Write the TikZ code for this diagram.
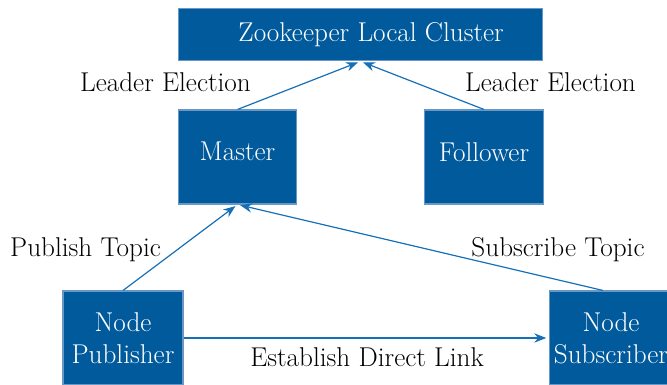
\documentclass[tikz,border=0pt]{standalone}
\usepackage{tikz}
\usetikzlibrary{arrows.meta}
\definecolor{boxblue}{HTML}{005A9C}
\definecolor{boxedge}{HTML}{6A98C6}
\definecolor{linkblue}{HTML}{1570B8}
\tikzset{
  box/.style={fill=boxblue, draw=boxedge, line width=0.8pt, text=white, align=center},
  link/.style={draw=linkblue, line width=0.9pt, -{Stealth[length=9pt,width=7pt]}, shorten >=2pt},
  lbl/.style={anchor=base}
}
\begin{document}
\begin{tikzpicture}[x=0.75pt, y=0.75pt, font=\fontsize{20.4}{24}\selectfont]
\useasboundingbox (0,0) rectangle (667,385);
\node[box, minimum width=273pt, minimum height=39.5pt] (zk) at (360.5,350.5) {\hspace*{16pt}Zookeeper Local Cluster};
\node[box, minimum width=89pt, minimum height=70.5pt, text depth=8pt] (master) at (237.5,228) {Master};
\node[box, minimum width=89pt, minimum height=70.5pt, text depth=8pt] (follower) at (484,228) {Follower};
\node[box, minimum width=90pt, minimum height=70.5pt] (pub) at (123,47) {Node\\Publisher};
\node[box, minimum width=90pt, minimum height=70.5pt] (sub) at (611,47) {Node\\Subscriber};
% labels
\node[lbl] (elecL) at (165.5,293) {Leader Election};
\node[lbl] (elecR) at (550.5,293) {Leader Election};
\node[lbl] (pubtopic) at (85.5,128) {Publish Topic};
\node[lbl] (subtopic) at (558,128) {Subscribe Topic};
\node[lbl] (direct) at (367,18) {Establish Direct Link};
% connectors
\draw[link] (master.north) -- (zk.south);
\draw[link] (follower.north) -- (zk.south);
\draw[link] (pub.north) -- (master.south);
\draw[link] ([xshift=-6pt]sub.north) -- (master.south);
\draw[link] (pub.east) -- (sub.west);
\end{tikzpicture}
\end{document}
